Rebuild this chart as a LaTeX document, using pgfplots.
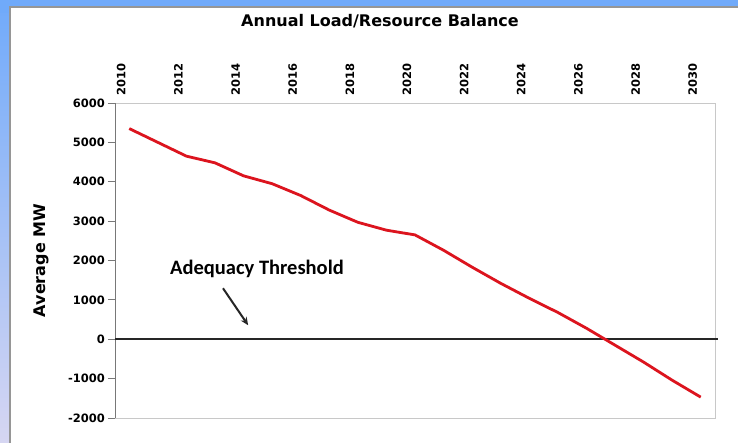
\documentclass[border=0pt]{standalone}
\usepackage{pgfplots}
\pgfplotsset{compat=1.18}
\usepackage{fontspec}
\setmainfont{DejaVu Sans}
\newfontfamily\calibri{Carlito}
\usetikzlibrary{arrows.meta}

\definecolor{slideblue}{RGB}{112,170,250}
\definecolor{slidelav}{RGB}{214,214,242}
\definecolor{panelgray}{RGB}{150,150,150}
\definecolor{boxgray}{RGB}{200,200,200}
\definecolor{axisgray}{RGB}{120,120,120}
\definecolor{balred}{RGB}{220,20,30}

% Annual load/resource balance (average MW)
\pgfplotstableread{
year balance
2010 5350
2011 5000
2012 4650
2013 4480
2014 4150
2015 3950
2016 3650
2017 3280
2018 2970
2019 2770
2020 2650
2021 2260
2022 1830
2023 1420
2024 1040
2025 680
2026 280
2027 -150
2028 -580
2029 -1040
2030 -1470
}\balance

\begin{document}
\begin{tikzpicture}
\path[use as bounding box] (0pt,0pt) rectangle (738pt,443pt);
% slide background and white chart panel
\shade[top color=slideblue, bottom color=slidelav] (0pt,0pt) rectangle (738pt,443pt);
\fill[slideblue] (0pt,430pt) rectangle (738pt,443pt);
\fill[white] (10pt,0pt) rectangle (738pt,436pt);
\draw[panelgray, line width=1.5pt] (10pt,0pt) -- (10pt,436pt) -- (738pt,436pt);

\begin{axis}[
  at={(115pt,25pt)}, anchor=south west,
  scale only axis, width=600pt, height=315pt,
  xmin=2009.5, xmax=2030.5,
  ymin=-2000, ymax=6000,
  clip=false,
  axis line style={boxgray, line width=0.8pt},
  xtick={2010,2012,...,2030},
  xticklabel pos=upper,
  major x tick style={draw=none},
  x tick label style={rotate=90, anchor=west, inner sep=0pt, yshift=8pt,
    font=\fontsize{11.5}{13}\selectfont\bfseries,
    /pgf/number format/1000 sep={}},
  ytick={-2000,-1000,...,6000},
  ytick pos=left,
  tick align=outside,
  major tick length=7pt,
  y tick style={axisgray, line width=0.8pt},
  y tick label style={font=\fontsize{11.5}{13}\selectfont\bfseries,
    /pgf/number format/1000 sep={}, inner sep=1pt, xshift=-2pt},
  /pgf/number format/assume math mode=true,
  ylabel={Average MW},
  ylabel style={at={(axis description cs:-0.122,0.5)}, anchor=center,
    font=\fontsize{16}{19}\selectfont\bfseries},
  title={Annual Load/Resource Balance},
  title style={at={(axis description cs:0.4417,1.241)}, anchor=center,
    font=\fontsize{16}{19}\selectfont\bfseries},
]
% darker value axis on the left
\draw[axisgray, line width=1pt] (rel axis cs:0,0) -- (rel axis cs:0,1);
% adequacy threshold at zero
\addplot[black!85, line width=1.8pt, forget plot] coordinates {(2009.5,0) (2030.6,0)};
\addplot[balred, line width=2.8pt, line join=round] table[x=year, y=balance] {\balance};
\node[font=\calibri\fontsize{20.5}{24}\selectfont\bfseries, anchor=center]
  at (axis cs:2014.47,1780) {Adequacy Threshold};
\draw[-{Stealth[length=8pt,width=7pt]}, line width=2pt, black!85]
  (axis cs:2013.28,1295) -- (axis cs:2014.16,356);
\end{axis}
\end{tikzpicture}
\end{document}
